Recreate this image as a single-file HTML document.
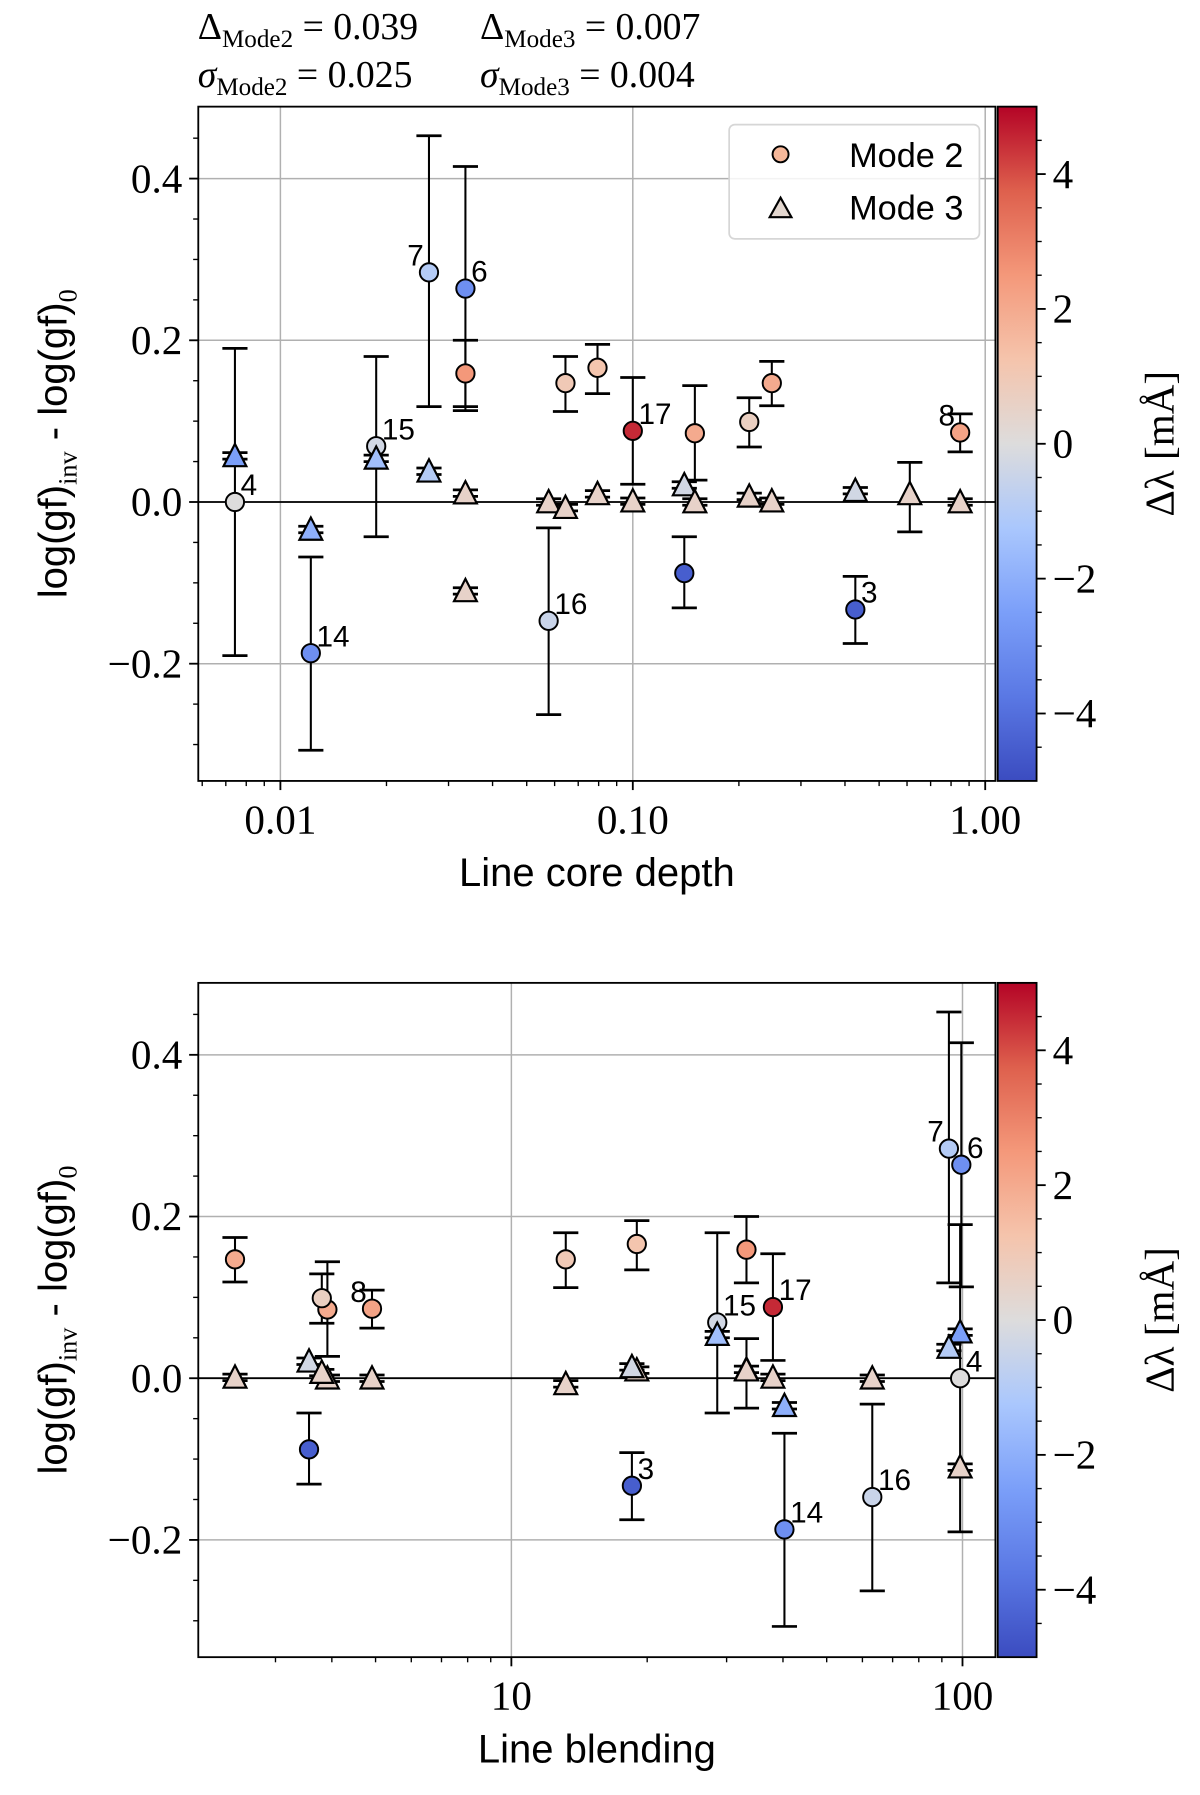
<!DOCTYPE html>
<html><head><meta charset="utf-8"><style>
html,body{margin:0;padding:0;background:#fff;}
svg{display:block;}
</style></head><body>
<svg id="fig" width="1200" height="1795" viewBox="0 0 1050 1570.6" xmlns="http://www.w3.org/2000/svg">
<defs>
<linearGradient id="cw" x1="0" y1="1" x2="0" y2="0">
<stop offset="0" stop-color="#3b4cc0"/><stop offset="0.125" stop-color="#5a78e4"/><stop offset="0.25" stop-color="#7b9ff9"/><stop offset="0.375" stop-color="#aac7fd"/><stop offset="0.5" stop-color="#dddcdc"/><stop offset="0.625" stop-color="#f5c4ac"/><stop offset="0.75" stop-color="#f4987a"/><stop offset="0.875" stop-color="#de604d"/><stop offset="1" stop-color="#b40426"/>
</linearGradient>
</defs>
<g font-family="Liberation Serif, serif" font-size="33" fill="#000">
<text x="173" y="34">Δ<tspan font-size="22" dy="7">Mode2</tspan><tspan dy="-7"> = 0.039</tspan></text>
<text x="420" y="34">Δ<tspan font-size="22" dy="7">Mode3</tspan><tspan dy="-7"> = 0.007</tspan></text>
<text x="173" y="76" font-style="italic">σ<tspan font-style="normal" font-size="22" dy="7">Mode2</tspan><tspan font-style="normal" dy="-7"> = 0.025</tspan></text>
<text x="420" y="76" font-style="italic">σ<tspan font-style="normal" font-size="22" dy="7">Mode3</tspan><tspan font-style="normal" dy="-7"> = 0.004</tspan></text>
</g>
<g id="top"></g>
<g id="bot"></g>
</svg>
<script>
// Line identifiers (Mode 2) shared by both panels
const m2Labels = ["4","14","15","7","6","","16","","","17","","","","","3","8"];
const m2LabelLeft = [0,0,0,1,0,0,0,0,0,0,0,0,0,0,0,1];
const m2Depth = [0.00743,0.0122,0.0187,0.0264,0.0335,0.0335,0.0577,0.0644,0.0794,0.100,0.140,0.150,0.214,0.248,0.428,0.849];
const m2Blend = [98.8,40.3,28.6,93.3,99.4,33.2,63.1,13.2,18.97,38.0,3.56,3.91,3.80,2.44,18.5,4.91];
const m2Y = [0.0,-0.187,0.069,0.284,0.264,0.159,-0.147,0.147,0.166,0.088,-0.088,0.085,0.099,0.147,-0.133,0.086];
const m2Hi = [0.19,-0.068,0.18,0.453,0.415,0.2,-0.032,0.18,0.195,0.154,-0.043,0.144,0.129,0.174,-0.092,0.109];
const m2Lo = [-0.19,-0.307,-0.043,0.118,0.113,0.118,-0.263,0.112,0.134,0.022,-0.131,0.027,0.068,0.119,-0.175,0.062];
const m2Dl = [0,-3,-0.3,-1,-3,2.5,-0.5,1,1.2,4.5,-4.5,2,0.7,2,-4.5,2.2];
// Mode 3
const m3Depth = [0.00743,0.0122,0.0187,0.0264,0.0335,0.0335,0.0577,0.0644,0.0794,0.100,0.140,0.150,0.214,0.248,0.428,0.611,0.849];
const m3Blend = [98.8,40.3,28.6,93.3,33.2,98.8,63.1,13.2,18.97,38.0,3.56,3.91,3.80,2.44,18.5,33.2,4.91];
const m3Y = [0.057,-0.034,0.054,0.038,0.011,-0.110,0.0,-0.007,0.010,0.001,0.021,0.0,0.007,0.001,0.014,0.010,0.0];
const m3Hi = [0.061,-0.030,0.058,0.042,0.015,-0.106,0.004,-0.003,0.014,0.005,0.025,0.004,0.011,0.005,0.018,0.049,0.004];
const m3Lo = [0.053,-0.038,0.050,0.034,0.007,-0.114,-0.004,-0.011,0.006,-0.003,0.017,-0.004,0.003,-0.003,0.010,-0.037,-0.004];
const m3Dl = [-2.5,-2,-1.5,-1,0.5,0.5,0.5,0.5,0.5,0.5,-0.3,0.5,0.5,0.5,-0.3,0.5,0.5];
// axes
const yTicks = [0.4,0.2,0.0,-0.2];
const yTickLabels = ["0.4","0.2","0.0","\u22120.2"];
const cbTicks = [4,2,0,-2,-4];
const cbTickLabels = ["4","2","0","\u22122","\u22124"];
const depthTicks = [0.01,0.1,1];
const depthTickLabels = ["0.01","0.10","1.00"];
const blendTicks = [10,100];
const blendTickLabels = ["10","100"];

const NS="http://www.w3.org/2000/svg";
function mk(parent,tag,attrs,text){const e=document.createElementNS(NS,tag);for(const k in attrs)e.setAttribute(k,attrs[k]);if(text!==undefined)e.textContent=text;parent.appendChild(e);return e;}
const cmapStops=[[59,76,192],[90,120,228],[123,159,249],[170,199,253],[221,220,220],[245,196,172],[244,152,122],[222,96,77],[180,4,38]];
function cmap(v){let t=(v+5)/10;t=Math.max(0,Math.min(1,t))*8;const i=Math.min(7,Math.floor(t)),f=t-i;const a=cmapStops[i],b=cmapStops[i+1];return "rgb("+a.map((c,k)=>Math.round(c+(b[k]-c)*f)).join(",")+")";}

function panel(g,top,xMinLog,xMaxLog,xs2,xs3,xTicks,xTickLbls,xTitle,legend){
  const L=173.5,R=871,T=top,B=top+590;
  const yMin=-0.345,yMax=0.489;
  const X=v=>L+(Math.log10(v)-xMinLog)/(xMaxLog-xMinLog)*(R-L);
  const Y=v=>B-(v-yMin)/(yMax-yMin)*(B-T);
  xTicks.forEach(t=>{const l=mk(g,'line',{x1:X(t),x2:X(t),y1:T,y2:B,stroke:'#b0b0b0','stroke-width':1.3});
    
    });
  yTicks.forEach(t=>{const l=mk(g,'line',{x1:L,x2:R,y1:Y(t),y2:Y(t),stroke:'#b0b0b0','stroke-width':1.3});
    
    });
  const zl=mk(g,'line',{x1:L,x2:R,y1:Y(0),y2:Y(0),stroke:'#000','stroke-width':1.6});
  
  
  function eb(x,lo,hi){const eg=mk(g,'g',{stroke:'#000','stroke-width':1.8});
    
    
    mk(eg,'line',{x1:x,x2:x,y1:Y(lo),y2:Y(hi)});
    mk(eg,'line',{x1:x-11,x2:x+11,y1:Y(lo),y2:Y(lo),'stroke-width':2.4});
    mk(eg,'line',{x1:x-11,x2:x+11,y1:Y(hi),y2:Y(hi),'stroke-width':2.4});}
  xs2.forEach((v,i)=>eb(X(v),m2Lo[i],m2Hi[i]));
  xs3.forEach((v,i)=>eb(X(v),m3Lo[i],m3Hi[i]));
  xs2.forEach((v,i)=>{const c=mk(g,'circle',{cx:X(v),cy:Y(m2Y[i]),r:8,fill:cmap(m2Dl[i]),stroke:'#000','stroke-width':1.7});
    
    
    if(m2Labels[i]){const t=mk(g,'text',{x:m2LabelLeft[i]?X(v)-19:X(v)+5,y:Y(m2Y[i])-6,'font-family':'Liberation Sans, sans-serif','font-size':26},m2Labels[i]);
      
      }
  });
  xs3.forEach((v,i)=>{const x=X(v),y=Y(m3Y[i]);const p=mk(g,'polygon',{points:(x-10)+","+(y+9)+" "+(x+10)+","+(y+9)+" "+x+","+(y-10.5),fill:cmap(m3Dl[i]),stroke:'#000','stroke-width':1.9,'stroke-linejoin':'miter'});
    
    });
  const fr=mk(g,'rect',{x:L,y:T,width:R-L,height:B-T,fill:'none',stroke:'#000','stroke-width':1.6});
  
  
  yTicks.forEach((t,i)=>{mk(g,'line',{x1:L-8,x2:L,y1:Y(t),y2:Y(t),stroke:'#000','stroke-width':1.6});
    const tl=mk(g,'text',{x:L-14,y:Y(t)+12,'text-anchor':'end','font-family':'Liberation Serif, serif','font-size':36},yTickLabels[i]);
    
    });
  for(let v=-0.3;v<=0.47;v+=0.05){if(Math.abs(v*10-Math.round(v*10))<0.01 && Math.round(v*10)%2===0)continue;
    mk(g,'line',{x1:L-4.5,x2:L,y1:Y(v),y2:Y(v),stroke:'#000','stroke-width':1.2});}
  for(let d=Math.floor(xMinLog);d<=Math.ceil(xMaxLog);d++){for(let m=1;m<10;m++){const lv=d+Math.log10(m);if(lv<xMinLog||lv>xMaxLog)continue;
    const x=L+(lv-xMinLog)/(xMaxLog-xMinLog)*(R-L);mk(g,'line',{x1:x,x2:x,y1:B,y2:B+(m===1?8:4.5),stroke:'#000','stroke-width':m===1?1.6:1.2});}}
  xTicks.forEach((t,i)=>{const tl=mk(g,'text',{x:X(t),y:B+46,'text-anchor':'middle','font-family':'Liberation Serif, serif','font-size':36},xTickLbls[i]);
    
    });
  const xt=mk(g,'text',{x:(L+R)/2,y:B+92,'text-anchor':'middle','font-family':'Liberation Sans, sans-serif','font-size':35},xTitle);
  
  
  const yt=mk(g,'text',{transform:'translate(58,'+(T+295)+') rotate(-90)','text-anchor':'middle','font-family':'Liberation Sans, sans-serif','font-size':35});
  
  
  yt.innerHTML='log(gf)<tspan font-family="Liberation Serif, serif" font-size="23" dy="9">inv</tspan><tspan dy="-9"> - log(gf)</tspan><tspan font-family="Liberation Serif, serif" font-size="23" dy="9">0</tspan>';
  const cL=873,cR=907;const CY=v=>T+(5-v)/10*(B-T);
  const cb=mk(g,'rect',{x:cL,y:T,width:cR-cL,height:B-T,fill:'url(#cw)',stroke:'#000','stroke-width':1.6});
  
  
  for(let v=-4.5;v<=4.6;v+=0.5){const maj=Math.abs(v%2)<0.01;mk(g,'line',{x1:cR,x2:cR+(maj?8:4.5),y1:CY(v),y2:CY(v),stroke:'#000','stroke-width':maj?1.6:1.2});}
  cbTicks.forEach((t,i)=>{const tl=mk(g,'text',{x:cR+14,y:CY(t)+12,'font-family':'Liberation Serif, serif','font-size':36},cbTickLabels[i]);
    
    });
  const ct=mk(g,'text',{transform:'translate(1027,'+CY(0)+') rotate(-90)','text-anchor':'middle','font-family':'Liberation Serif, serif','font-size':36},'Δλ [mÅ]');
  
  
  if(legend){const lg=mk(g,'g',{});
    
    
    mk(lg,'rect',{x:638,y:109,width:219,height:100,rx:5,fill:'rgba(255,255,255,0.85)',stroke:'#d6d6d6','stroke-width':1.5});
    mk(lg,'circle',{cx:683,cy:135,r:7,fill:'#f6b89a',stroke:'#000','stroke-width':1.7});
    mk(lg,'polygon',{points:'673.5,190 692.5,190 683,173',fill:'#e3d7cf',stroke:'#000','stroke-width':1.9});
    const a=mk(lg,'text',{x:843,y:146,'text-anchor':'end','font-family':'Liberation Sans, sans-serif','font-size':30},'Mode 2');
    
    
    const b=mk(lg,'text',{x:843,y:192,'text-anchor':'end','font-family':'Liberation Sans, sans-serif','font-size':30},'Mode 3');
    
    }
}
panel(document.getElementById('top'),93.3,-2.233,0.029,m2Depth,m3Depth,depthTicks,depthTickLabels,'Line core depth',true);
panel(document.getElementById('bot'),860,0.306,2.073,m2Blend,m3Blend,blendTicks,blendTickLabels,'Line blending',false);
</script>
</body></html>
